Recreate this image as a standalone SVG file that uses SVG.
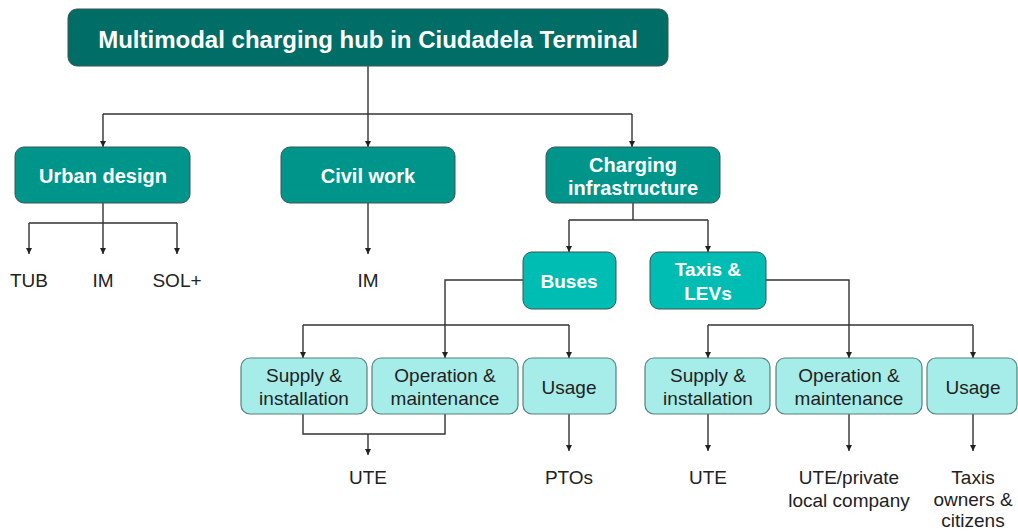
<svg xmlns="http://www.w3.org/2000/svg" width="1018" height="531" viewBox="0 0 1018 531">
<style>
.n0{fill:#006D66;stroke:#3d5553;stroke-width:1}
.n1{fill:#00958B;stroke:#3d5553;stroke-width:1}
.n2{fill:#00BDB3;stroke:#3d5553;stroke-width:1}
.n3{fill:#A6EDE9;stroke:#55807d;stroke-width:1.2}
.tw{font-family:"Liberation Sans",Arial,sans-serif;font-weight:bold;fill:#fff;text-anchor:middle}
.tb{font-family:"Liberation Sans",Arial,sans-serif;fill:#222;text-anchor:middle;font-size:19px}
.c{fill:none;stroke:#333;stroke-width:1.4}
</style>
<defs>
<marker id="ah" viewBox="0 0 10 10" refX="10" refY="5" markerWidth="4.5" markerHeight="4.5" orient="auto" markerUnits="strokeWidth">
<path d="M0,0 L10,5 L0,10 z" fill="#222"/>
</marker>
</defs>
<g id="connectors">
<path class="c" d="M368,66 V114"/>
<path class="c" d="M103,114 H632"/>
<path class="c" d="M103,114 V147" marker-end="url(#ah)"/>
<path class="c" d="M368,114 V147" marker-end="url(#ah)"/>
<path class="c" d="M632,114 V147" marker-end="url(#ah)"/>
<path class="c" d="M103,203 V223 M29,223 H177"/>
<path class="c" d="M29,223 V254" marker-end="url(#ah)"/>
<path class="c" d="M103,223 V254" marker-end="url(#ah)"/>
<path class="c" d="M177,223 V254" marker-end="url(#ah)"/>
<path class="c" d="M368,203 V254" marker-end="url(#ah)"/>
<path class="c" d="M633,203 V220 M569,220 H708"/>
<path class="c" d="M569,220 V252" marker-end="url(#ah)"/>
<path class="c" d="M708,220 V252" marker-end="url(#ah)"/>
<path class="c" d="M523,280 H445 V358" marker-end="url(#ah)"/>
<path class="c" d="M303,325 H569"/>
<path class="c" d="M303,325 V358" marker-end="url(#ah)"/>
<path class="c" d="M569,325 V358" marker-end="url(#ah)"/>
<path class="c" d="M766,280 H849 V358" marker-end="url(#ah)"/>
<path class="c" d="M708,325 H973"/>
<path class="c" d="M708,325 V358" marker-end="url(#ah)"/>
<path class="c" d="M973,325 V358" marker-end="url(#ah)"/>
<path class="c" d="M303,414 V434 H445 V414"/>
<path class="c" d="M368,434 V455" marker-end="url(#ah)"/>
<path class="c" d="M569,414 V451" marker-end="url(#ah)"/>
<path class="c" d="M708,414 V451" marker-end="url(#ah)"/>
<path class="c" d="M849,414 V451" marker-end="url(#ah)"/>
<path class="c" d="M973,414 V451" marker-end="url(#ah)"/>
</g>
<g id="hub"><rect class="n0" x="68" y="9" width="600" height="57" rx="9"/><text class="tw" x="368" y="48" font-size="24">Multimodal charging hub in Ciudadela Terminal</text></g>
<g id="urban"><rect class="n1" x="15" y="147" width="175" height="56" rx="9"/><text class="tw" x="103" y="183" font-size="20">Urban design</text></g>
<g id="civil"><rect class="n1" x="281" y="147" width="174" height="56" rx="9"/><text class="tw" x="368" y="183" font-size="20">Civil work</text></g>
<g id="charging"><rect class="n1" x="546" y="147" width="174" height="56" rx="9"/><text class="tw" x="633" y="172" font-size="20">Charging</text><text class="tw" x="633" y="195" font-size="20">infrastructure</text></g>
<g id="buses"><rect class="n2" x="523" y="252" width="93" height="57" rx="9"/><text class="tw" x="569" y="288" font-size="19">Buses</text></g>
<g id="taxis"><rect class="n2" x="650" y="252" width="116" height="57" rx="9"/><text class="tw" x="708" y="276" font-size="19">Taxis &amp;</text><text class="tw" x="708" y="300" font-size="19">LEVs</text></g>
<g id="bus-supply"><rect class="n3" x="241" y="358" width="126" height="56" rx="9"/><text class="tb" x="304" y="382">Supply &amp;</text><text class="tb" x="304" y="405">installation</text></g>
<g id="bus-om"><rect class="n3" x="372" y="358" width="146" height="56" rx="9"/><text class="tb" x="445" y="382">Operation &amp;</text><text class="tb" x="445" y="405">maintenance</text></g>
<g id="bus-usage"><rect class="n3" x="523" y="358" width="93" height="56" rx="9"/><text class="tb" x="569" y="394">Usage</text></g>
<g id="taxi-supply"><rect class="n3" x="645" y="358" width="125" height="56" rx="9"/><text class="tb" x="708" y="382">Supply &amp;</text><text class="tb" x="708" y="405">installation</text></g>
<g id="taxi-om"><rect class="n3" x="776" y="358" width="146" height="56" rx="9"/><text class="tb" x="849" y="382">Operation &amp;</text><text class="tb" x="849" y="405">maintenance</text></g>
<g id="taxi-usage"><rect class="n3" x="927" y="358" width="90" height="56" rx="9"/><text class="tb" x="973" y="394">Usage</text></g>
<g id="leaves">
<text class="tb" x="29" y="287">TUB</text>
<text class="tb" x="103" y="287">IM</text>
<text class="tb" x="177" y="287">SOL+</text>
<text class="tb" x="368" y="287">IM</text>
<text class="tb" x="368" y="484">UTE</text>
<text class="tb" x="569" y="484">PTOs</text>
<text class="tb" x="708" y="484">UTE</text>
<text class="tb" x="849" y="484">UTE/private</text>
<text class="tb" x="849" y="507">local company</text>
<text class="tb" x="973" y="484">Taxis</text>
<text class="tb" x="973" y="506">owners &amp;</text>
<text class="tb" x="973" y="527">citizens</text>
</g>
</svg>
